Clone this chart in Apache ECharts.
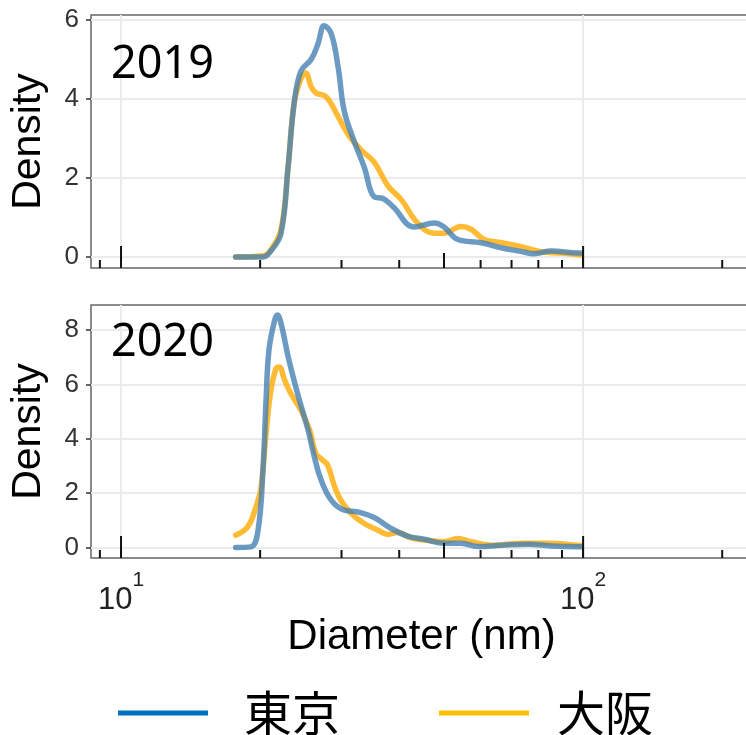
<!DOCTYPE html>
<html>
<head>
<meta charset="utf-8">
<script src="https://cdn.jsdelivr.net/npm/echarts@6/dist/echarts.min.js"></script>
<style>
  html, body { margin: 0; padding: 0; background: #fff; }
  #chart { width: 746px; height: 735px; }
</style>
</head>
<body>
<div id="chart"></div>
<script>
// density of particle diameter, [diameter nm, density]
const tokyo2019 = [
  [17.7, 0], [20.3, 0.0], [21.1, 0.15], [22.2, 0.6], [23.0, 2.3], [23.7, 3.9],
  [24.5, 4.7], [25.8, 5.0], [26.7, 5.4], [27.5, 5.85], [28.5, 5.65], [29.5, 4.8],
  [30.4, 3.7], [31.9, 2.95], [33.6, 2.27], [35.3, 1.52], [36.9, 1.48], [38.8, 1.27],
  [43.1, 0.76], [47.6, 0.86], [50.0, 0.76], [53.6, 0.44], [60.2, 0.36], [66.5, 0.23],
  [73.4, 0.14], [78.3, 0.08], [85.3, 0.15], [97.6, 0.1], [99, 0.1]
];
const osaka2019 = [
  [17.7, 0], [20.3, 0.03], [21.1, 0.18], [22.2, 0.7], [23.0, 2.3], [23.7, 3.9],
  [24.5, 4.5], [25.1, 4.65], [25.8, 4.3], [26.4, 4.15], [27.8, 4.05], [29.5, 3.55],
  [31.0, 3.1], [33.1, 2.7], [35.3, 2.4], [37.8, 1.8], [40.4, 1.45], [43.9, 0.85],
  [47.6, 0.6], [50.0, 0.6], [54.4, 0.77], [57.2, 0.7], [61.1, 0.44], [66.5, 0.36],
  [73.4, 0.26], [81.1, 0.13], [89.6, 0.1], [99, 0.05]
];
const tokyo2020 = [
  [17.7, 0], [19.1, 0.02], [19.8, 0.64], [20.3, 2.97], [20.6, 5.43], [20.9, 7.27],
  [21.5, 8.37], [21.8, 8.56], [22.2, 8.25], [23.0, 7.02], [24.1, 5.67], [25.4, 4.32],
  [26.2, 3.34], [27.1, 2.48], [28.5, 1.74], [30.4, 1.37], [32.5, 1.31], [35.3, 1.1],
  [38.4, 0.7], [41.7, 0.42], [45.3, 0.3], [50.0, 0.15], [54.4, 0.15], [59.3, 0.03],
  [66.5, 0.08], [76.0, 0.12], [85.3, 0.05], [97.6, 0.02], [99, 0.02]
];
const osaka2020 = [
  [17.7, 0.45], [18.8, 0.76], [19.6, 1.5], [20.1, 2.23], [20.6, 4.2], [21.1, 5.79],
  [21.65, 6.59], [22.0, 6.65], [22.6, 6.16], [23.3, 5.67], [24.5, 5.06], [25.6, 4.32],
  [26.4, 3.46], [27.3, 3.22], [28.0, 3.03], [29.0, 2.23], [29.9, 1.74], [31.5, 1.25],
  [33.6, 0.88], [35.9, 0.64], [37.8, 0.48], [39.7, 0.55], [42.4, 0.35], [45.3, 0.27],
  [50.0, 0.21], [53.6, 0.33], [57.2, 0.21], [64.2, 0.08], [73.4, 0.15], [84.0, 0.15],
  [97.6, 0.08], [99, 0.07]
];

const cities = ['東京', '大阪'];
const years = ['2019', '2020'];
const xBreaks = [10, 100];
const logTickValues = [9, 10, 20, 30, 40, 50, 60, 70, 80, 90, 100, 200];
const yTicks2019 = [0, 2, 4, 6];
const yTicks2020 = [0, 2, 4, 6, 8];

const chart = echarts.init(document.getElementById('chart'));

const lineColors = { '東京': 'rgba(70,130,180,0.8)', '大阪': 'rgba(255,170,0,0.8)' };
const legendColors = { '東京': '#0070C0', '大阪': '#FFC000' };
const legendTextGap = { '東京': 31, '大阪': 23 };

function xAxisFor(gridIndex, showLabels) {
  return {
    type: 'log',
    gridIndex,
    min: 8.61,
    max: 232,
    name: showLabels ? 'Diameter (nm)' : '',
    nameLocation: 'middle',
    nameGap: 57,
    nameTextStyle: { fontSize: 42, fontFamily: 'Liberation Sans', color: '#000' },
    axisLine: { show: false },
    axisTick: { show: true, customValues: xBreaks, length: 9, lineStyle: { color: '#222', width: 2 } },
    axisLabel: {
      show: showLabels,
      customValues: xBreaks,
      margin: 12,
      formatter: v => '{b|10}{s|' + Math.round(Math.log10(v)) + '}',
      rich: {
        b: { fontSize: 31, fontFamily: 'Liberation Sans', color: '#222', lineHeight: 46, verticalAlign: 'bottom' },
        s: { fontSize: 21, fontFamily: 'Liberation Sans', color: '#222', verticalAlign: 'top' }
      }
    },
    splitLine: { show: true, lineStyle: { color: '#ebebeb', width: 2 } }
  };
}

function yAxisFor(gridIndex, min, max, ticks) {
  return {
    type: 'value',
    gridIndex,
    min, max,
    name: 'Density',
    nameLocation: 'middle',
    nameRotate: 90,
    nameGap: 42,
    nameTextStyle: { fontSize: 41, fontFamily: 'Liberation Sans', color: '#000' },
    axisLine: { show: false },
    axisTick: { show: true, customValues: ticks, length: 5, lineStyle: { color: '#333', width: 1.5 } },
    axisLabel: { customValues: ticks, fontSize: 26, fontFamily: 'Liberation Sans', color: '#333', margin: 12 },
    splitLine: { show: true, lineStyle: { color: '#ebebeb', width: 2 } }
  };
}

// annotation_logticks style marks along the bottom of each panel
function renderLogTicks(params, api) {
  const v = api.value(0);
  const cs = params.coordSys;
  const x = api.coord([v, 0])[0];
  const bottom = cs.y + cs.height;
  const mant = v / Math.pow(10, Math.floor(Math.log10(v) + 1e-9));
  const len = Math.abs(mant - 1) < 1e-6 ? 22 : (Math.abs(mant - 5) < 1e-6 ? 15 : 8);
  return {
    type: 'line',
    shape: { x1: x, y1: bottom - len, x2: x, y2: bottom },
    style: { stroke: '#111', lineWidth: 2 }
  };
}

function lineSeries(name, data, idx) {
  return {
    name,
    type: 'line',
    xAxisIndex: idx,
    yAxisIndex: idx,
    data,
    smooth: 0.4,
    showSymbol: false,
    symbol: 'none',
    z: name === '東京' ? 4 : 3,
    lineStyle: { width: 5.5, color: lineColors[name], cap: 'round', join: 'round' },
    itemStyle: { color: legendColors[name] }
  };
}

const gridBase = {
  left: 91, width: 661, height: 253,
  show: true, borderColor: '#666', borderWidth: 1.5,
  backgroundColor: 'transparent',
  outerBoundsMode: 'none', containLabel: false
};

chart.setOption({
  animation: false,
  backgroundColor: '#fff',
  title: years.map((y, i) => ({
    text: y,
    left: 111,
    top: i === 0 ? 43 : 321,
    padding: 0,
    textStyle: { fontSize: 45, fontWeight: 'normal', fontFamily: 'Noto Sans', color: '#000' }
  })),
  legend: {
    data: cities.map(c => ({
      name: c,
      itemStyle: { color: legendColors[c], borderWidth: 0 },
      textStyle: { padding: [0, 0, 0, legendTextGap[c]] }
    })),
    icon: 'rect',
    itemWidth: 90,
    itemHeight: 5,
    itemGap: 99,
    left: 113,
    top: 684,
    textStyle: { fontSize: 48, fontFamily: 'Noto Sans CJK JP', color: '#000' }
  },
  grid: [
    Object.assign({}, gridBase, { top: 15 }),
    Object.assign({}, gridBase, { top: 305 })
  ],
  xAxis: [xAxisFor(0, false), xAxisFor(1, true)],
  yAxis: [yAxisFor(0, -0.28, 6.12, yTicks2019), yAxisFor(1, -0.39, 8.93, yTicks2020)],
  series: [
    lineSeries('大阪', osaka2019, 0),
    lineSeries('東京', tokyo2019, 0),
    lineSeries('大阪', osaka2020, 1),
    lineSeries('東京', tokyo2020, 1),
    { type: 'custom', xAxisIndex: 0, yAxisIndex: 0, renderItem: renderLogTicks, data: logTickValues.map(v => [v, 0]), z: 5, silent: true },
    { type: 'custom', xAxisIndex: 1, yAxisIndex: 1, renderItem: renderLogTicks, data: logTickValues.map(v => [v, 0]), z: 5, silent: true }
  ]
});

window.addEventListener('resize', () => chart.resize());
</script>
</body>
</html>
